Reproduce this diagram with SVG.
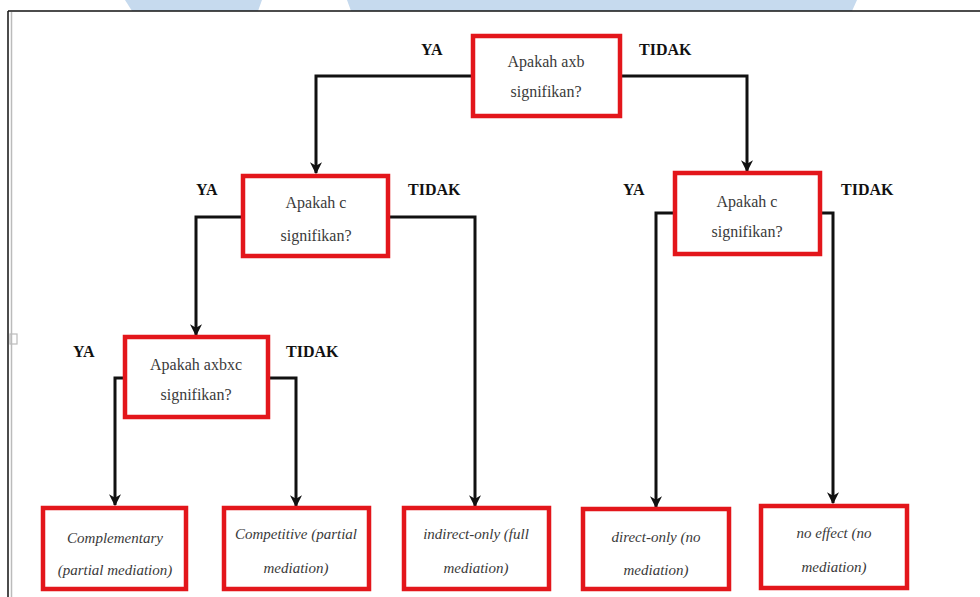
<svg xmlns="http://www.w3.org/2000/svg" width="980" height="597" viewBox="0 0 980 597">
<style>
.box{fill:#fff;stroke:#e3161b;stroke-width:4.5}
text{font-family:'Liberation Serif','Times New Roman',Times,'DejaVu Serif',serif}
.q{font-size:16px;fill:#3a3a3a;text-anchor:middle}
.r{font-size:15px;font-style:italic;fill:#3a3a3a;text-anchor:middle}
.lbl{font-size:16px;font-weight:bold;fill:#111}
.con{fill:none;stroke:#111;stroke-width:3}
</style>
<defs>
<marker id="arr" viewBox="0 0 10 10" refX="9" refY="5" markerWidth="4" markerHeight="4" orient="auto" markerUnits="strokeWidth">
<path d="M0,0 L10,5 L0,10 L3,5 Z" fill="#111"/>
</marker>
</defs>
<rect width="980" height="597" fill="#fff"/>
<polygon points="125,0 262,0 258,11 132,11" fill="#c6daee"/>
<polygon points="347,0 857,0 852,11 351,11" fill="#c6daee"/>
<line x1="8" y1="11" x2="980" y2="11" stroke="#111" stroke-width="1.5"/>
<line x1="8" y1="11" x2="8" y2="597" stroke="#111" stroke-width="1.5"/>
<line x1="11.5" y1="12" x2="11.5" y2="597" stroke="#bbb" stroke-width="1.5"/>
<rect x="10" y="334" width="7" height="10" fill="none" stroke="#bbb" stroke-width="1.2"/>
<g id="connectors">
<path class="con" d="M472,76 H316 V173" marker-end="url(#arr)"/>
<path class="con" d="M620,76 H747 V171" marker-end="url(#arr)"/>
<path class="con" d="M243,217 H196 V335" marker-end="url(#arr)"/>
<path class="con" d="M388,217 H475 V506" marker-end="url(#arr)"/>
<path class="con" d="M675,213 H656 V507" marker-end="url(#arr)"/>
<path class="con" d="M820,213 H833 V503" marker-end="url(#arr)"/>
<path class="con" d="M125,378 H115 V505" marker-end="url(#arr)"/>
<path class="con" d="M268,378 H296 V506" marker-end="url(#arr)"/>
</g>
<g id="labels">
<text class="lbl" x="421" y="55">YA</text>
<text class="lbl" x="639" y="55">TIDAK</text>
<text class="lbl" x="196" y="195">YA</text>
<text class="lbl" x="408" y="195">TIDAK</text>
<text class="lbl" x="623" y="195">YA</text>
<text class="lbl" x="841" y="195">TIDAK</text>
<text class="lbl" x="73" y="357">YA</text>
<text class="lbl" x="286" y="357">TIDAK</text>
</g>
<g id="q1">
<rect class="box" x="473" y="36" width="147" height="80"/>
<text class="q" x="546" y="67">Apakah axb</text>
<text class="q" x="546" y="97">signifikan?</text>
</g>
<g id="q2">
<rect class="box" x="243" y="176" width="145" height="80"/>
<text class="q" x="316" y="208">Apakah c</text>
<text class="q" x="316" y="241">signifikan?</text>
</g>
<g id="q3">
<rect class="box" x="675" y="173" width="145" height="81"/>
<text class="q" x="747" y="207">Apakah c</text>
<text class="q" x="747" y="237">signifikan?</text>
</g>
<g id="q4">
<rect class="box" x="125" y="337" width="143" height="80"/>
<text class="q" x="196" y="370">Apakah axbxc</text>
<text class="q" x="196" y="400">signifikan?</text>
</g>
<g id="r1">
<rect class="box" x="43" y="508" width="143" height="81"/>
<text class="r" x="115" y="543">Complementary</text>
<text class="r" x="115" y="575">(partial mediation)</text>
</g>
<g id="r2">
<rect class="box" x="224" y="508" width="145" height="81"/>
<text class="r" x="296" y="539">Competitive (partial</text>
<text class="r" x="296" y="573">mediation)</text>
</g>
<g id="r3">
<rect class="box" x="404" y="508" width="145" height="81"/>
<text class="r" x="476" y="539">indirect-only (full</text>
<text class="r" x="476" y="573">mediation)</text>
</g>
<g id="r4">
<rect class="box" x="583" y="509" width="146" height="80"/>
<text class="r" x="656" y="542">direct-only (no</text>
<text class="r" x="656" y="575">mediation)</text>
</g>
<g id="r5">
<rect class="box" x="761" y="506" width="146" height="82"/>
<text class="r" x="834" y="538">no effect (no</text>
<text class="r" x="834" y="572">mediation)</text>
</g>
</svg>
